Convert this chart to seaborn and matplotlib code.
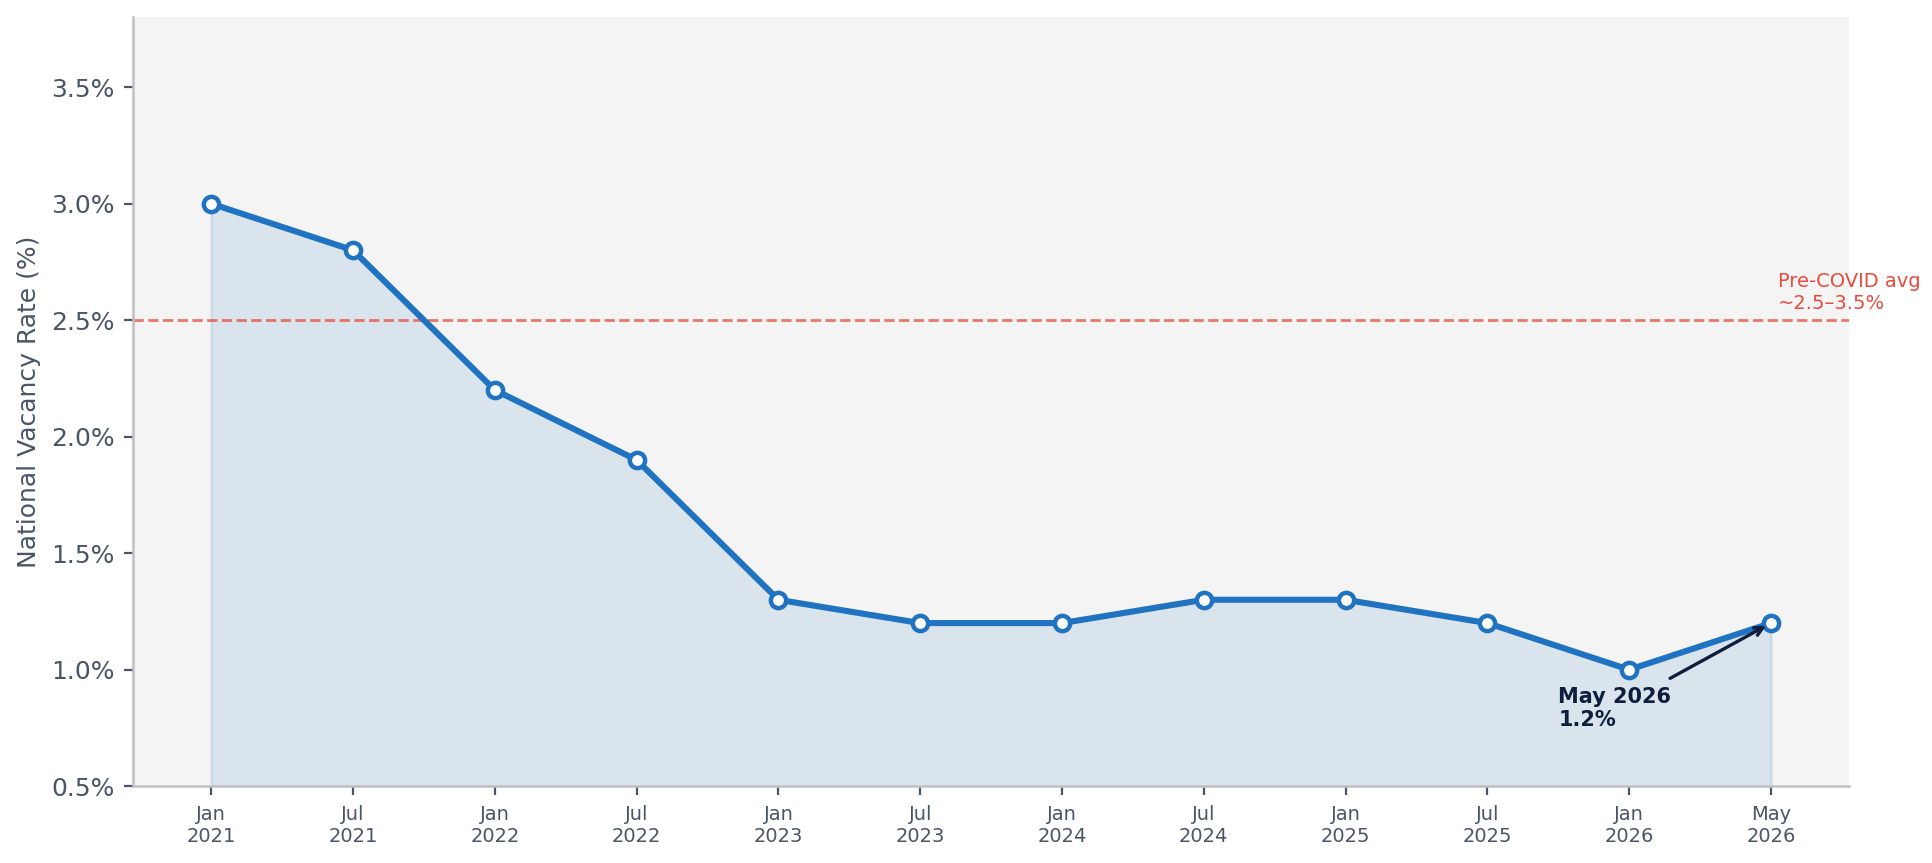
import seaborn as sns
import matplotlib.pyplot as plt
import numpy as np
import pandas as pd

# data
periods = ['Jan\n2021', 'Jul\n2021', 'Jan\n2022', 'Jul\n2022', 'Jan\n2023', 'Jul\n2023',
           'Jan\n2024', 'Jul\n2024', 'Jan\n2025', 'Jul\n2025', 'Jan\n2026', 'May\n2026']
vacancy = [3.0, 2.8, 2.2, 1.9, 1.3, 1.2, 1.2, 1.3, 1.3, 1.2, 1.0, 1.2]
pre_covid = 2.5

df = pd.DataFrame({'pos': np.arange(len(periods)), 'period': periods, 'rate': vacancy})

sns.set_style('white')
plt.rcParams['font.family'] = ['DejaVu Sans']

blue = '#1f73c0'
txt = '#4a5568'

fig, ax = plt.subplots(figsize=(9.66, 4.315), dpi=200)
ax.set_facecolor('#f4f4f4')

ax.fill_between(df['pos'], df['rate'], 0.5, color=blue, alpha=0.12, zorder=1)
sns.lineplot(data=df, x='pos', y='rate', ax=ax, color=blue, linewidth=2.2,
             marker='o', markersize=5.5, markerfacecolor='white',
             markeredgecolor=blue, markeredgewidth=1.6, zorder=3)

ax.axhline(pre_covid, color='#e74c3c', linestyle='--', linewidth=1.0, alpha=0.75, zorder=2)
ax.text(11.05, pre_covid + 0.03, 'Pre-COVID avg\n~2.5\u20133.5%', color='#e74c3c',
        fontsize=7, ha='left', va='bottom')

ax.annotate('May 2026\n1.2%', xy=(df['pos'].iloc[-1], vacancy[-1]), xytext=(9.5, 0.74),
            fontsize=7.5, fontweight='bold', color='#0d1f3c', ha='left', va='bottom',
            arrowprops=dict(arrowstyle='->', color='#0d1f3c', lw=1.2))

ax.set_xlim(-0.55, 11.55)
ax.set_ylim(0.5, 3.8)
ax.set_xticks(df['pos'])
ax.set_xticklabels(periods, fontsize=7, color=txt)
ax.set_yticks([0.5, 1.0, 1.5, 2.0, 2.5, 3.0, 3.5])
ax.set_yticklabels(['%.1f%%' % v for v in [0.5, 1.0, 1.5, 2.0, 2.5, 3.0, 3.5]], fontsize=9, color=txt)
ax.tick_params(axis='both', colors=txt, length=3.2, width=0.8, bottom=True, left=True)
ax.set_xlabel('')
ax.set_ylabel('National Vacancy Rate (%)', fontsize=9, color=txt, labelpad=3.5)

sns.despine(ax=ax)
for s in ['left', 'bottom']:
    ax.spines[s].set_color('#c0c0c0')
    ax.spines[s].set_linewidth(0.9)

fig.subplots_adjust(left=0.069, right=0.957, top=0.98, bottom=0.089)
fig.savefig('out.png', dpi=200)
